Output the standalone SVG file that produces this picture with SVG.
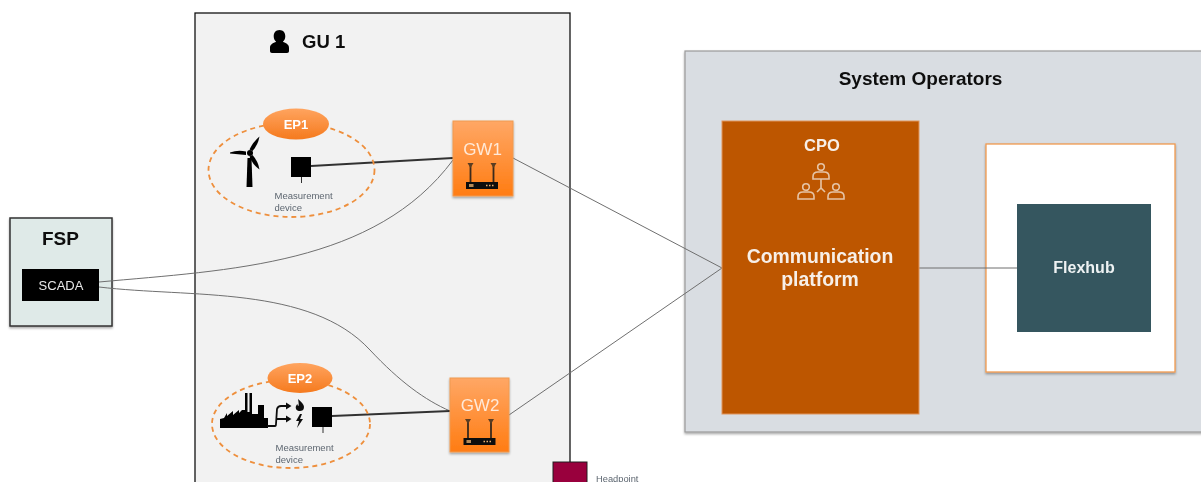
<svg xmlns="http://www.w3.org/2000/svg" width="1201" height="482" viewBox="0 0 1201 482">
<defs>
<linearGradient id="gwGrad" x1="0" y1="0" x2="0" y2="1"><stop offset="0" stop-color="#ffa765"/><stop offset="1" stop-color="#ff7c12"/></linearGradient>
<linearGradient id="epGrad" x1="0" y1="0" x2="0" y2="1"><stop offset="0" stop-color="#ffa45f"/><stop offset="1" stop-color="#f57a1e"/></linearGradient>
<filter id="sh" x="-10%" y="-10%" width="120%" height="120%"><feDropShadow dx="0" dy="1.500" stdDeviation="1.200" flood-color="#000" flood-opacity="0.350"/></filter>
<filter id="soft" filterUnits="userSpaceOnUse" x="0" y="0" width="1201" height="482"><feGaussianBlur stdDeviation="0.400"/></filter>
<g id="router">
<path d="M-11.500 -3 L-11.500 -20 M11.500 -3 L11.500 -20" stroke="#3a2a1a" stroke-width="1.800" fill="none"/>
<path d="M-14.500 -23 h6 l-3 5 z M8.500 -23 h6 l-3 5 z" fill="#5a3d22"/>
<rect x="-16" y="-4" width="32" height="7" fill="#111"/>
<rect x="-13" y="-2" width="4.500" height="3" fill="#b58a58"/>
<path d="M4 -0.500h1.500M7 -0.500h1.500M10 -0.500h1.500" stroke="#e8b070" stroke-width="1.500"/>
</g>
<g id="person" fill="none" stroke="#e6c4a6" stroke-width="1.600">
<circle cx="0" cy="-5.500" r="3.300"/>
<path d="M-8 6.500 V4 Q-8 -0.500 -3 -0.500 H3 Q8 -0.500 8 4 V6.500 Z"/>
</g>
</defs>
<style>
text{font-family:"Liberation Sans",Arial,sans-serif}
.b{font-weight:700}
.ep{font-size:13px;font-weight:700;fill:#fff;text-anchor:middle}
.gw{font-size:17px;fill:#ffe9d8;text-anchor:middle}
.md{font-size:9.500px;fill:#5d6670}
.dash{fill:none;stroke:#ee8f3c;stroke-width:1.800;stroke-dasharray:5 4}
.wire{fill:none;stroke:#6f6f6f;stroke-width:1}
.thick{fill:none;stroke:#333;stroke-width:1.800}
</style>

<rect width="1201" height="482" fill="#fff"/>
<g filter="url(#soft)">

<g id="gu1">
<rect x="195" y="13" width="375" height="480" fill="#f2f2f2" stroke="#111" stroke-width="1.300"/>
<path d="M279.500 30 c-3.800 0-5.800 2.800-5.800 6.200 c0 2.500 1 4.500 2.500 5.500 c-3.200 1-6.200 2.800-6.200 6 v3.500 q0 1.800 2 1.800 h15 q2 0 2-1.800 v-3.500 c0-3.200-3-5-6.200-6 c1.500-1 2.500-3 2.500-5.500 c0-3.400-2-6.200-5.800-6.200z" fill="#000"/>
<text class="b" x="302" y="48" font-size="18.500" fill="#111">GU 1</text>
</g>

<g id="system-operators">
<rect x="685" y="51" width="530" height="381" fill="#d9dde2" stroke="#9a9a9a" stroke-width="1.200" filter="url(#sh)"/>
<text class="b" x="920.500" y="85" font-size="19" text-anchor="middle" fill="#111">System Operators</text>
</g>

<g id="flexhub-frame">
<rect x="986" y="144" width="189" height="228" fill="#fff" stroke="#f09a50" stroke-width="1.300" filter="url(#sh)"/>
</g>

<g id="fsp">
<rect x="10" y="218" width="102" height="108" fill="#dfeae8" stroke="#333" stroke-width="1.500" filter="url(#sh)"/>
<text class="b" x="60.500" y="245" font-size="19" text-anchor="middle" fill="#111">FSP</text>
</g>

<g id="connectors">
<path class="wire" d="M99 282 C230 270 375 265 453 160"/>
<path class="wire" d="M99 287 C190 298 310 285 370 350 C400 382 425 400 450 411"/>
<path class="wire" d="M513 158 L722 268"/>
<path class="wire" d="M509 415 L722 268"/>
<path class="wire" d="M919 268 L1017 268"/>
<path class="thick" d="M311 166 L453 158"/>
<path class="thick" d="M332 416 L450 411"/>
</g>

<g id="ep1">
<ellipse class="dash" cx="291.500" cy="170" rx="83" ry="47"/>
<ellipse cx="296" cy="124" rx="33" ry="15.500" fill="url(#epGrad)"/>
<text class="ep" x="296" y="128.500">EP1</text>
<g id="turbine" fill="#000">
<path d="M247.500 158 h4 l1 29 h-6 z"/>
<circle cx="250" cy="153" r="3"/>
<path d="M230 152.500 Q238 149.500 246 151.500 L246 155 Q238 154 230 153.500 Z"/>
<path d="M259.500 136.500 Q258 145 252.500 151 L249.500 149.500 Q253 142 259.500 136.500 Z"/>
<path d="M259.500 169.500 Q252 164 249.500 156.500 L252.500 155 Q258 161 259.500 169.500 Z"/>
</g>
</g>

<g id="measurement-device-1">
<rect x="291" y="157" width="20" height="20" fill="#000"/>
<path d="M301.500 177 V183" stroke="#333" stroke-width="1"/>
<text class="md"><tspan x="274.500" y="198.500">Measurement</tspan><tspan x="274.500" y="211">device</tspan></text>
</g>

<g id="ep2">
<ellipse class="dash" cx="291" cy="424" rx="79" ry="44"/>
<ellipse cx="300" cy="378" rx="32.500" ry="15" fill="url(#epGrad)"/>
<text class="ep" x="300" y="382.500">EP2</text>
<g id="factory">
<path d="M220 428 V419 l4-1 l3-5 v3 l6-5 v4 l6-5 v3 l3-3 l3 0 V393 h2.500 V412 h2 V393 h2.500 V414 h6 V405 h6 v13 l4 0 v10 z" fill="#000"/>
<path d="M267 426 H275 Q276 426 276 424 L277 409 Q278 406 281 406 H287 M277 419 H287" fill="none" stroke="#111" stroke-width="1.800"/>
<path d="M286 402.500 l5.500 3.500 l-5.500 3.500 z M286 415.500 l5.500 3.500 l-5.500 3.500 z" fill="#111"/>
<path d="M298 399 c3 3 6 5 6 8 c0 3-2 4-4 4 c-3 0-5-2-4-5 c0.500-1 1-1.500 1.500-2 c0 1 0.500 2 1 2 c0.500-2 0-4-0.500-7z" fill="#111"/>
<path d="M300 414 l-4 7 h3 l-2 7 l6-9 h-3 l2-5 z" fill="#111"/>
</g>
</g>

<g id="measurement-device-2">
<rect x="312" y="407" width="20" height="20" fill="#000"/>
<path d="M323 427 V433" stroke="#333" stroke-width="1"/>
<text class="md"><tspan x="275.500" y="450.500">Measurement</tspan><tspan x="275.500" y="463">device</tspan></text>
</g>

<g id="gw1">
<rect x="453" y="121" width="60" height="75" fill="url(#gwGrad)" stroke="#f09a50" filter="url(#sh)"/>
<text class="gw" x="482.500" y="155">GW1</text>
<use href="#router" x="482" y="186"/>
</g>

<g id="gw2">
<rect x="450" y="378" width="59" height="74" fill="url(#gwGrad)" stroke="#f09a50" filter="url(#sh)"/>
<text class="gw" x="480" y="411">GW2</text>
<use href="#router" x="479.500" y="442"/>
</g>

<g id="scada">
<rect x="22" y="269" width="77" height="32" fill="#000"/>
<text x="61" y="290" font-size="13" text-anchor="middle" fill="#e8e8e8">SCADA</text>
</g>

<g id="cpo">
<rect x="722" y="121" width="197" height="293" fill="#bd5700" stroke="#e0935a" stroke-width="1"/>
<text class="b" x="822" y="151" font-size="16.500" text-anchor="middle" fill="#f7efe8">CPO</text>
<use href="#person" x="821" y="172.500"/>
<use href="#person" x="806" y="192.500"/>
<use href="#person" x="836" y="192.500"/>
<path d="M821 179 V188 M821 188 L817 192 M821 188 L825 192" fill="none" stroke="#e6c4a6" stroke-width="1.600"/>
<text class="b" font-size="19.400" text-anchor="middle" fill="#f7efe8"><tspan x="820" y="263">Communication</tspan><tspan x="820" y="285.500">platform</tspan></text>
</g>

<g id="flexhub">
<rect x="1017" y="204" width="134" height="128" fill="#35575f"/>
<text class="b" x="1084" y="273" font-size="16" text-anchor="middle" fill="#eef2f3">Flexhub</text>
</g>

<g id="headpoint">
<rect x="553" y="462" width="34" height="30" fill="#99003c" stroke="#222" stroke-width="1"/>
<text x="596" y="482" font-size="9.300" fill="#5d6670">Headpoint</text>
</g>
</g>
</svg>
